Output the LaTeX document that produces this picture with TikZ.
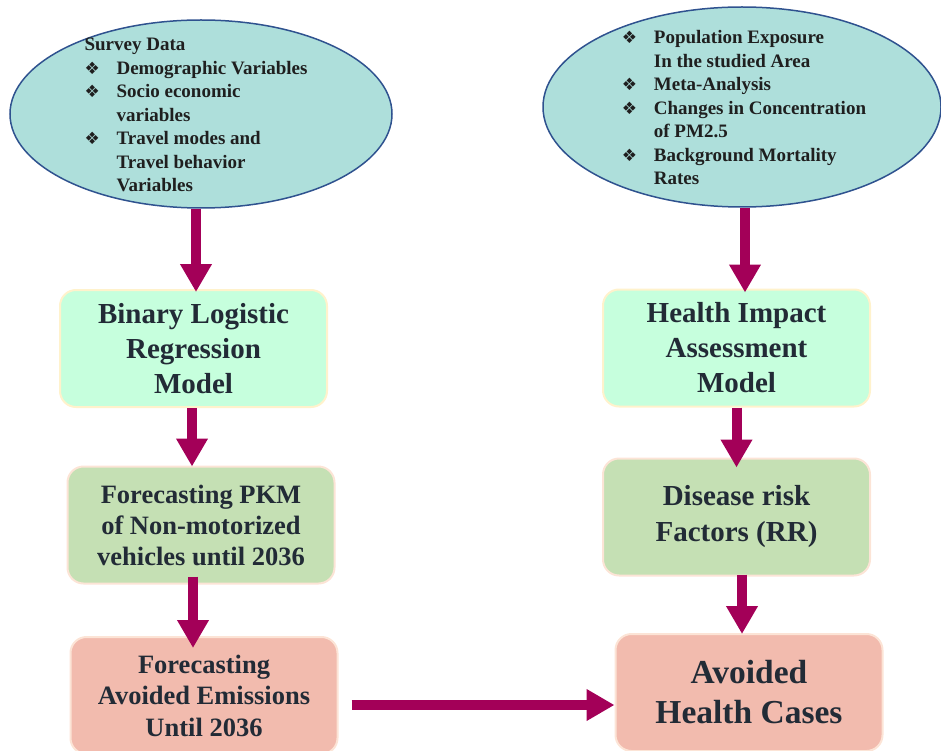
\documentclass[tikz,border=0pt]{standalone}
\usepackage{fontspec}
\setmainfont{Liberation Serif}
\newfontfamily\symfont{DejaVu Sans}
\usetikzlibrary{shapes.geometric, arrows.meta, calc}

\definecolor{ellfill}{RGB}{174,223,219}
\definecolor{elldraw}{RGB}{47,82,143}
\definecolor{mintfill}{RGB}{198,255,221}
\definecolor{sagefill}{RGB}{197,224,180}
\definecolor{salmonfill}{RGB}{242,187,174}
\definecolor{creamline}{RGB}{255,242,204}
\definecolor{peachline}{RGB}{252,228,214}
\definecolor{arrowred}{RGB}{163,0,88}
\definecolor{darktext}{RGB}{34,43,54}

\newcommand{\itm}{\makebox[32pt][l]{\symfont\fontsize{17}{17}\selectfont ❖}}
\newcommand{\cnt}{\hspace*{32pt}}

\tikzstyle{cloud} = [ellipse, draw=elldraw, line width=1.5pt, fill=ellfill, inner sep=0pt]
\tikzstyle{cloudtext} = [align=left, inner sep=0pt, text=black!88, font=\bfseries\fontsize{19}{23.5}\selectfont]
\tikzstyle{mintbox} = [rectangle, rounded corners=16pt, minimum width=267pt, minimum height=117pt, text centered, align=center, draw=creamline, line width=2pt, fill=mintfill, text=darktext, font=\bfseries\fontsize{29}{35}\selectfont]
\tikzstyle{sagebox} = [mintbox, draw=peachline, fill=sagefill]
\tikzstyle{salmonbox} = [mintbox, draw=peachline, fill=salmonfill]
\tikzstyle{arrow} = [line width=10pt, draw=arrowred, -{Triangle[width=30pt,length=28pt]}]

\begin{document}
\begin{tikzpicture}[x=1pt, y=-1pt]
\useasboundingbox (0,0) rectangle (941,751);

% inputs
\node at (201,114) (survey) [cloud, minimum width=382pt, minimum height=188pt] {};
\node at (196,115) (surveytxt) [cloudtext] {Survey Data\\
\itm Demographic Variables\\
\itm Socio economic\\
\cnt variables\\
\itm Travel modes and\\
\cnt Travel behavior\\
\cnt Variables};

\node at (742,107) (hiadata) [cloud, minimum width=398pt, minimum height=200pt] {};
\node at (744,108) (hiadatatxt) [cloudtext] {\itm Population Exposure\\
\cnt In the studied Area\\
\itm Meta-Analysis\\
\itm Changes in Concentration\\
\cnt of PM2.5\\
\itm Background Mortality\\
\cnt Rates};

% left column
\node at (193.5,348.5) (blr) [mintbox] {Binary Logistic\\Regression\\Model};
\node at (201,525) (pkm) [sagebox, font=\bfseries\fontsize{26.5}{31}\selectfont] {Forecasting PKM\\of Non-motorized\\vehicles until 2036};
\node at (204,695.5) (emis) [salmonbox, font=\bfseries\fontsize{26.5}{31.5}\selectfont] {Forecasting\\Avoided Emissions\\Until 2036};

% right column
\node at (736.5,348) (hia) [mintbox] {Health Impact\\Assessment\\Model};
\node at (736.5,517) (risk) [sagebox, font=\bfseries\fontsize{29}{36}\selectfont] {Disease risk\\Factors (RR)};
\node at (749,692.5) (cases) [salmonbox, font=\bfseries\fontsize{33.5}{40}\selectfont] {Avoided\\Health Cases};

\draw [arrow] ($(survey.south)+(-5,0)$) -- ($(blr.north)+(2.5,3)$);
\draw [arrow] ($(blr.south)+(-1.5,0)$) -- ($(pkm.north)+(-9,1)$);
\draw [arrow] ($(pkm.south)+(-8,-8)$) -- ($(emis.north)+(-11,12)$);

\draw [arrow] ($(hiadata.south)+(3,0)$) -- ($(hia.north)+(8.5,4)$);
\draw [arrow] (hia.south) -- ($(risk.north)+(0,10)$);
\draw [arrow] ($(risk.south)+(5.5,-2)$) -- ($(cases.north)+(-7,1)$);

\draw [arrow] ($(emis.east)+(13,9.5)$) -- ($(cases.west)+(0,12.5)$);

\end{tikzpicture}
\end{document}
